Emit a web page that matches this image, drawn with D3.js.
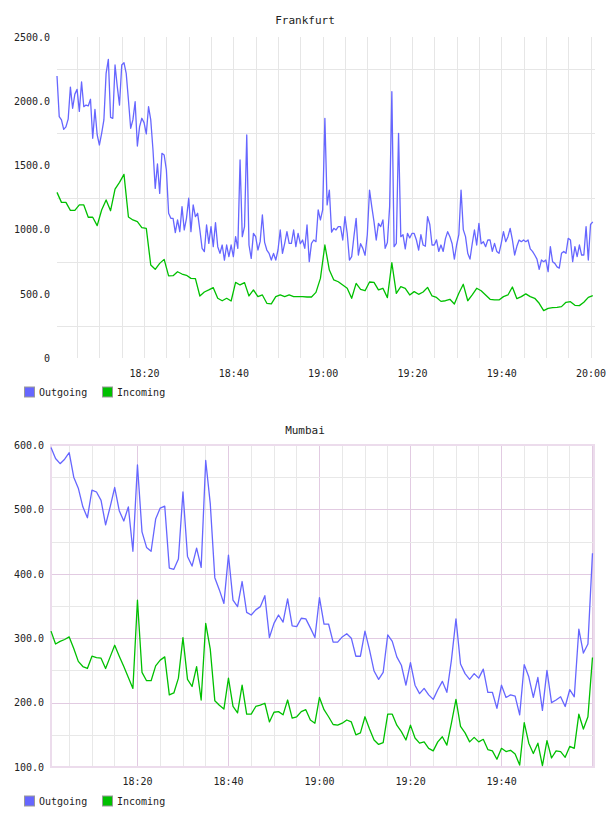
<!DOCTYPE html>
<html><head><meta charset="utf-8">
<script src="https://cdn.jsdelivr.net/npm/d3@7"></script>
<style>
html,body{margin:0;padding:0;background:#fff;}
text{font-family:"DejaVu Sans Mono",monospace;fill:#222;}
</style></head>
<body><svg id="c" width="608" height="816"></svg>
<script>
// ---------- Data ----------
const seriesNames = ["Outgoing", "Incoming"];
const seriesColors = ["#6666ff", "#00c000"];

// Frankfurt: Outgoing sampled every 30 s from 18:00:30, Incoming every 60 s from 18:00:30
const fraStart = "18:00:30";
const fraOutStepSec = 30;
const fraInStepSec = 60;
const fraOutgoing = [
2196,1880,1854,1781,1800,1860,2110,1945,2055,2092,
1920,2150,1957,1970,1963,2015,1711,1937,1737,1659,
1750,1854,2217,2326,1874,1867,2282,2113,1970,2282,
2300,2217,2009,1789,1854,1996,1651,1802,1867,1833,
1745,1957,1854,1620,1321,1511,1282,1594,1581,1464,
1127,1088,1088,976,1075,984,1179,997,1088,1244,
984,1192,1101,1127,997,854,828,1036,893,1023,
867,1054,867,815,880,763,880,789,880,789,
945,854,1542,945,1023,1737,880,776,971,945,
841,906,1114,900,841,815,763,815,763,841,
997,815,893,984,893,893,997,867,971,890,
919,854,1036,750,893,919,906,1153,1075,1153,
1867,1192,1308,980,1010,997,1023,1023,919,1101,
971,763,789,945,1088,802,890,854,800,960,
1308,1179,1062,919,1049,1023,1075,854,900,1179,
2074,867,893,1750,945,960,850,971,935,970,
970,919,840,960,880,870,1101,1040,880,880,
920,830,880,830,930,984,945,890,770,880,
960,1308,1000,945,815,770,890,997,880,1049,
890,906,867,920,919,830,893,830,815,893,
984,906,945,1010,920,802,870,919,906,919,
906,919,850,830,802,770,690,763,750,763,
672,867,750,737,710,700,815,830,815,932,
919,750,867,789,880,802,802,1023,763,1040,1060
];
const fraIncoming = [
1290,1212,1212,1150,1150,1192,1192,1096,1096,1031,
1153,1231,1147,1316,1368,1430,1098,1075,1062,1015,
1010,724,691,737,768,639,641,672,654,644,
620,618,483,514,530,548,465,446,465,444,
589,569,587,483,530,478,491,426,421,478,
491,478,491,478,478,478,475,475,511,620,880,
685,608,594,568,543,465,581,535,524,592,
589,530,543,470,742,504,555,543,491,517,
496,514,550,483,472,441,446,457,421,504,
574,446,491,543,524,491,457,452,452,478,
491,553,462,478,499,478,465,426,369,387,
392,395,400,434,439,410,408,434,472,485
];

// Mumbai: both series every 60 s from 18:01:05
const mumStart = "18:01:05";
const mumStepSec = 60;
const mumOutgoing = [
596,579,571,578,588,550,533,504,487,530,
527,514,476,504,534,498,482,504,435,569,
465,441,435,485,502,505,409,407,423,527,
427,412,440,410,576,509,394,375,354,429,
359,349,388,340,336,344,349,366,301,323,
336,325,361,319,318,331,330,316,301,363,
322,322,294,294,302,307,300,272,272,311,
282,249,236,247,305,295,271,258,227,262,
227,214,222,212,205,220,233,216,266,330,
260,245,236,245,238,252,216,216,191,227,
208,212,210,181,259,240,208,239,188,250,
200,204,209,194,220,209,314,277,291,432
];
const mumIncoming = [
311,291,295,298,302,284,264,256,253,272,
270,269,253,271,289,272,256,239,222,359,
247,234,234,257,266,271,212,215,238,301,
236,225,256,204,323,283,203,196,190,238,
194,184,227,182,182,194,196,199,170,185,
186,181,204,176,178,186,189,173,168,208,
189,178,166,165,168,173,170,150,153,178,
159,142,135,138,182,182,165,155,142,165,
145,137,139,129,125,139,147,134,168,205,
163,153,139,146,139,143,127,125,112,129,
124,126,120,103,169,137,121,137,102,141,
114,125,124,115,132,129,182,159,178,270
];

const fraYTicks = [0, 500, 1000, 1500, 2000, 2500];
const fraYGrid = [250, 750, 1250, 1750, 2250];
const mumYTicks = [100, 200, 300, 400, 500, 600];
const mumYMinor = [150, 250, 350, 450, 550];
const fraXLabels = ["18:20", "18:40", "19:00", "19:20", "19:40", "20:00"];
const mumXLabels = ["18:20", "18:40", "19:00", "19:20", "19:40"];
const xLabelMinutes = 20;
const xGridMinutes = 5;

// ---------- Helpers ----------
function parseT(s){ const p = s.split(":").map(Number); return new Date(2000,0,1,p[0],p[1],p[2]||0); }
function toPoints(vals, startStr, stepSec){
  const t0 = parseT(startStr).getTime();
  return vals.map((v,i)=>({t:new Date(t0 + i*stepSec*1000), v}));
}
const svg = d3.select("#c");

function drawChart(cfg){
  const g = svg.append("g");
  const x = d3.scaleTime().domain(cfg.xDomain.map(parseT)).range([cfg.left, cfg.right]);
  const y = d3.scaleLinear().domain(cfg.yDomain).range([cfg.bottom, cfg.top]);
  const H = cfg.bottom - cfg.top;

  // title
  g.append("text").attr("x", 305).attr("y", cfg.titleY)
    .attr("text-anchor","middle").attr("font-size", 11).text(cfg.title);

  // vertical grid (5 min)
  const gridTimes = x.ticks(d3.timeMinute.every(xGridMinutes));
  const isMajor = t => t.getMinutes() % xLabelMinutes === 0;
  g.append("g").selectAll("line").data(gridTimes).join("line")
    .attr("x1", d=>Math.round(x(d))+0.5).attr("x2", d=>Math.round(x(d))+0.5)
    .attr("y1", cfg.top).attr("y2", cfg.bottom)
    .attr("stroke", d => cfg.majorColor && isMajor(d) ? cfg.majorColor : cfg.gridColor)
    .attr("stroke-width", 1);

  // horizontal grid
  g.append("g").selectAll("line").data(cfg.yMinor).join("line")
    .attr("x1", cfg.left).attr("x2", cfg.right)
    .attr("y1", d=>Math.round(y(d))+0.5).attr("y2", d=>Math.round(y(d))+0.5)
    .attr("stroke", cfg.gridColor).attr("stroke-width", 1);
  if (cfg.majorColor){
    g.append("g").selectAll("line").data(cfg.yTicks.filter(v=>v>cfg.yDomain[0] && v<cfg.yDomain[1])).join("line")
      .attr("x1", cfg.left).attr("x2", cfg.right)
      .attr("y1", d=>Math.round(y(d))+0.5).attr("y2", d=>Math.round(y(d))+0.5)
      .attr("stroke", cfg.majorColor).attr("stroke-width", 1);
    g.append("rect").attr("x", cfg.left).attr("y", cfg.top)
      .attr("width", cfg.right-cfg.left).attr("height", H)
      .attr("fill","none").attr("stroke", cfg.borderColor).attr("stroke-width", 2);
  }

  // y axis labels
  const ya = d3.axisLeft(y).tickValues(cfg.yTicks).tickSize(0).tickPadding(7)
    .tickFormat(cfg.yFormat);
  const yg = g.append("g").attr("transform", `translate(${cfg.left},0)`).call(ya);
  yg.select(".domain").remove();
  yg.selectAll("text").attr("font-size", 10).style("font-family","DejaVu Sans Mono, monospace").attr("fill","#222");

  // x axis labels
  const xa = d3.axisBottom(x).tickValues(cfg.xLabels.map(parseT)).tickSize(0).tickPadding(0)
    .tickFormat(d3.timeFormat("%H:%M"));
  const xg = g.append("g").attr("transform", `translate(0,${cfg.xLabelY})`).call(xa);
  xg.select(".domain").remove();
  xg.selectAll("text").attr("font-size", 10).attr("dy", 0).style("font-family","DejaVu Sans Mono, monospace").attr("fill","#222");

  // lines
  const line = d3.line().x(d=>x(d.t)).y(d=>y(d.v));
  cfg.series.forEach((s,i)=>{
    g.append("path").datum(s).attr("fill","none")
      .attr("stroke", seriesColors[i]).attr("stroke-width", 1.3)
      .attr("stroke-linejoin","round").attr("d", line);
  });

  // legend
  const lg = g.append("g");
  const lx = [24.5, 102.5];
  seriesNames.forEach((n,i)=>{
    lg.append("rect").attr("x", lx[i]).attr("y", cfg.legendY).attr("width", 10).attr("height", 10)
      .attr("fill", seriesColors[i]).attr("stroke", "#999").attr("stroke-width", 1);
    lg.append("text").attr("x", lx[i]+14.5).attr("y", cfg.legendY+8.5).attr("font-size", 10).text(n);
  });
}

drawChart({
  title: "Frankfurt", titleY: 24,
  left: 57, right: 595, top: 37, bottom: 358,
  xDomain: ["18:00:30", "20:01:00"], xLabels: fraXLabels,
  yDomain: [0, 2500], yTicks: fraYTicks, yMinor: fraYGrid,
  yFormat: d => d === 0 ? "0" : d.toFixed(1),
  gridColor: "#e6e6e6", majorColor: null,
  xLabelY: 377, legendY: 387,
  series: [toPoints(fraOutgoing, fraStart, fraOutStepSec), toPoints(fraIncoming, fraStart, fraInStepSec)]
});

drawChart({
  title: "Mumbai", titleY: 434,
  left: 51, right: 594, top: 445, bottom: 767,
  xDomain: ["18:01:05", "20:00:25"], xLabels: mumXLabels,
  yDomain: [100, 600], yTicks: mumYTicks, yMinor: mumYMinor,
  yFormat: d => d.toFixed(1),
  gridColor: "#e8e8e8", majorColor: "#e2cbe2", borderColor: "#ecdcec",
  xLabelY: 785, legendY: 796,
  series: [toPoints(mumOutgoing, mumStart, mumStepSec), toPoints(mumIncoming, mumStart, mumStepSec)]
});
</script></body></html>
